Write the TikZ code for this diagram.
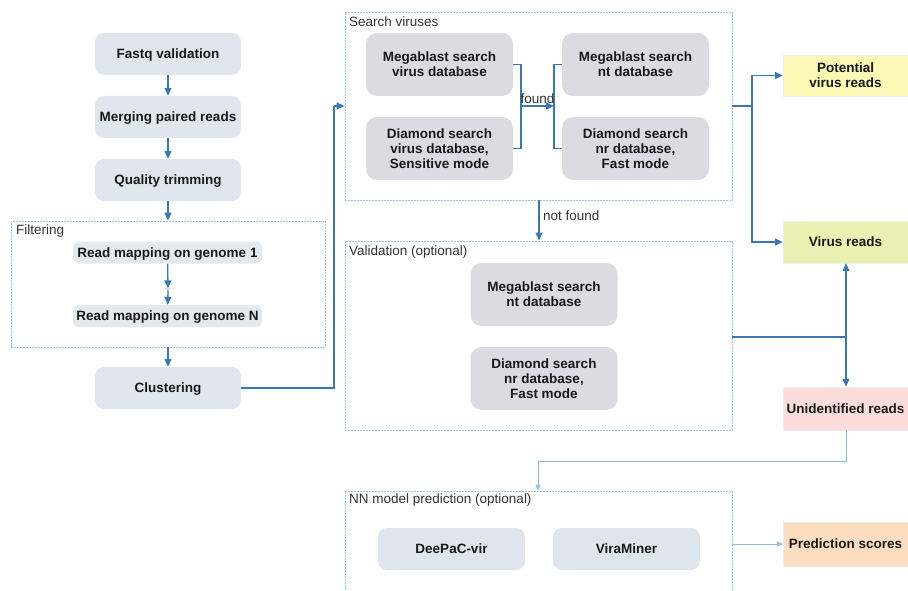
\documentclass[tikz,border=0pt]{standalone}
\usepackage{fontspec}
\setmainfont{Liberation Sans}
\usetikzlibrary{arrows.meta}
\definecolor{arr}{HTML}{3A78B5}
\definecolor{arrlight}{HTML}{8DB8E2}
\definecolor{grp}{HTML}{9DC3E6}
\definecolor{leftfill}{HTML}{DFE6EE}
\definecolor{srchfill}{HTML}{DCDBE4}
\definecolor{rmfill}{HTML}{E4E9EE}
\definecolor{nnfill}{HTML}{DEE5EC}
\definecolor{potfill}{HTML}{FCF9B6}
\definecolor{virfill}{HTML}{EAF0B1}
\definecolor{unifill}{HTML}{FDDCDC}
\definecolor{predfill}{HTML}{FCDDBF}
\definecolor{grptext}{HTML}{333333}
\tikzset{
  every node/.style={font=\fontsize{13.5}{15}\selectfont},
  stepbox/.style={draw=none, rounded corners=9pt, align=center, text=black!90, font=\fontsize{13.5}{15}\selectfont\bfseries, inner sep=0pt, text depth=-1pt},
  leftbox/.style={stepbox, fill=leftfill, minimum width=146pt, minimum height=42pt},
  srchbox/.style={stepbox, fill=srchfill, minimum width=147pt, minimum height=63pt, rounded corners=11pt},
  rmbox/.style={stepbox, fill=rmfill, minimum width=189pt, minimum height=22pt, rounded corners=6pt},
  nnbox/.style={stepbox, fill=nnfill, minimum width=147pt, minimum height=42pt},
  outbox/.style={draw=black!7, align=center, text=black!90, font=\fontsize{13.5}{15}\selectfont\bfseries, inner sep=0pt, minimum width=125pt},
  group/.style={draw=grp, line width=0.8pt, dash pattern=on 1.6pt off 1.4pt, inner sep=0pt},
  grplabel/.style={anchor=west, text=grptext, inner sep=0pt},
  conn/.style={draw=arr, line width=1.3pt},
  arrow/.style={conn, -{Triangle[length=8pt,width=7pt]}},
  thinarrow/.style={draw=arrlight, line width=1pt, -{Triangle[length=6pt,width=5pt]}},
}
\begin{document}
\begin{tikzpicture}[x=1pt,y=-1pt]
\useasboundingbox (0,0) rectangle (908,591);

% left column
\node[leftbox] (fastq) at (168,54) {Fastq validation};
\node[leftbox] (merge) at (168,117) {Merging paired reads};
\node[leftbox] (qual) at (168,180) {Quality trimming};
\node[group, minimum width=314pt, minimum height=126pt] (filt) at (168,284) {};
\node[grplabel] (filtlab) at (16,231) {Filtering};
\node[rmbox] (rm1) at (167.5,252.5) {Read mapping on genome 1};
\node[inner sep=0pt, font=\fontsize{7}{7}\selectfont, text=black!55] (dots) at (168,289) {...};
\node[rmbox] (rmN) at (167.5,316) {Read mapping on genome N};
\node[leftbox] (clust) at (168,388) {Clustering};

\draw[arrow] (fastq) -- (merge);
\draw[arrow] (merge) -- (qual);
\draw[arrow] (qual) -- (qual|-filt.north);
\draw[arrow] (rm1) -- (dots.north);
\draw[arrow] (dots.south) -- (rmN);
\draw[arrow] (filt.south-|clust) -- (clust);

% search viruses
\node[group, minimum width=387pt, minimum height=188pt] (search) at (538.5,106) {};
\node[grplabel] (searchlab) at (349,22) {Search viruses};
\node[srchbox] (mv) at (439.5,64.5) {Megablast search\\virus database};
\node[srchbox] (dv) at (439.5,148.5) {Diamond search\\virus database,\\Sensitive mode};
\node[srchbox] (mn) at (635.5,64.5) {Megablast search\\nt database};
\node[srchbox] (dn) at (635.5,148.5) {Diamond search\\nr database,\\Fast mode};
\coordinate (fl) at (521,106);
\coordinate (fr) at (554,106);
\draw[conn] (mv.east) -| (fl) |- (dv.east);
\draw[conn] (mn.west) -| (fr) |- (dn.west);
\draw[arrow] (fl) -- (fr);
\node[anchor=south, inner sep=0pt, text=grptext] (foundlab) at (537.5,104) {found};

\draw[conn] (clust.east) -| (334,106) coordinate (cj);
\draw[arrow] (cj) -- (search.west);

% validation
\node[group, minimum width=387pt, minimum height=189pt] (val) at (538.5,335.5) {};
\node[grplabel] (vallab) at (349,252) {Validation (optional)};
\node[srchbox] (vm) at (544,294.5) {Megablast search\\nt database};
\node[srchbox] (vd) at (544,378.5) {Diamond search\\nr database,\\Fast mode};
\draw[arrow] (search.south-|539,0) -- (val.north-|539,0);
\node[grplabel] (nflab) at (543,216) {not found};

% outputs
\node[outbox, fill=potfill, minimum height=41pt] (pot) at (845.5,75.5) {Potential\\virus reads};
\node[outbox, fill=virfill, minimum height=42pt] (vir) at (845.5,242) {Virus reads};
\node[outbox, fill=unifill, minimum height=43pt] (uni) at (845.5,408.5) {Unidentified reads};
\node[outbox, fill=predfill, minimum height=44pt] (pred) at (845.5,544) {Prediction scores};

\coordinate (sj) at (752,106);
\draw[conn] (search.east) -- (sj);
\draw[arrow] (sj) |- (pot.west);
\draw[arrow] (sj) |- (vir.west);
\coordinate (vj) at (846,337);
\draw[conn] (val.east|-vj) -- (vj);
\draw[arrow] (vj) -- (vir.south-|vj);
\draw[arrow] (vj) -- (uni.north-|vj);

% NN
\node[group, minimum width=387pt, minimum height=110pt] (nn) at (538.5,546) {};
\node[grplabel] (nnlab) at (349,500) {NN model prediction (optional)};
\node[nnbox] (deep) at (451.5,549) {DeePaC-vir};
\node[nnbox] (vira) at (626.5,549) {ViraMiner};
\draw[thinarrow] (uni.south-|846,0) |- (538,461) -- (nn.north-|538,0);
\draw[thinarrow] (nn.east|-pred.west) -- (pred.west);
\end{tikzpicture}
\end{document}
